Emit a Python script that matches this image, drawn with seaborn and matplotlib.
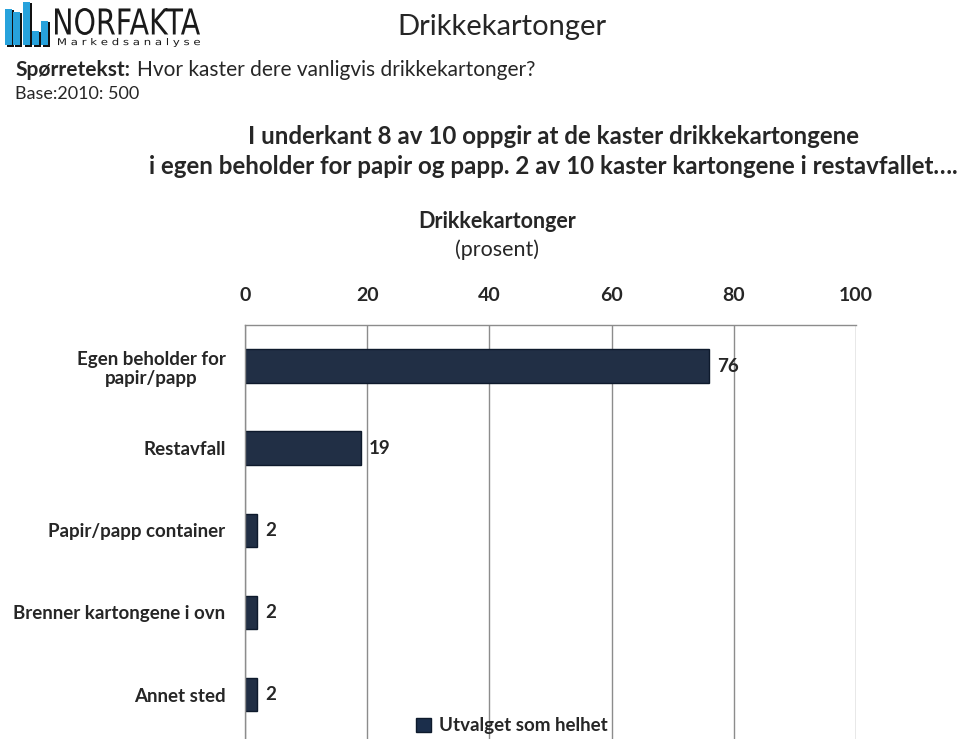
import matplotlib
matplotlib.use("Agg")
import matplotlib.pyplot as plt
import matplotlib.patches as mpatches
from matplotlib.textpath import TextPath
from matplotlib.font_manager import FontProperties
from matplotlib.transforms import Affine2D, IdentityTransform
import seaborn as sns
import pandas as pd

categories = ["Egen beholder for\npapir/papp", "Restavfall", "Papir/papp container",
              "Brenner kartongene i ovn", "Annet sted"]
values = [76, 19, 2, 2, 2]
xticks = [0, 20, 40, 60, 80, 100]
series_name = "Utvalget som helhet"

df = pd.DataFrame({"kategori": categories, "prosent": values, "serie": series_name})

sns.set_theme(style="white")
plt.rcParams["font.family"] = ["Lato", "DejaVu Sans"]

W, H = 959, 739
fig = plt.figure(figsize=(W / 100, H / 100), dpi=100)

ax = fig.add_axes([245 / W, 0, (856 - 245) / W, 1 - 325 / H])
bar_color = "#1B2E4B"
sns.barplot(data=df, x="prosent", y="kategori", hue="serie", palette=[bar_color],
            orient="h", width=0.41, edgecolor="#0E1A2C", linewidth=1.0,
            ax=ax, legend=False)

ax.set_xlim(0, 100)
ax.set_ylim(4.54, -0.5)
ax.set_xticks(xticks)
ax.set_xticklabels([str(t) for t in xticks], fontweight="bold", fontsize=14)
ax.xaxis.tick_top()
ax.tick_params(axis="x", length=0, pad=15)
ax.tick_params(axis="y", length=0, pad=14)
for lbl in ax.get_yticklabels():
    lbl.set_fontweight("bold")
    lbl.set_fontsize(13.5)
    lbl.set_multialignment("center")
ax.set_xlabel("")
ax.set_ylabel("")
ax.grid(axis="x", color="#8C8C8C", linewidth=1.0)
ax.grid(axis="y", visible=False)
for side in ["right", "bottom"]:
    ax.spines[side].set_visible(False)
for side in ["top", "left"]:
    ax.spines[side].set_color("#8C8C8C")
    ax.spines[side].set_linewidth(1.0)

for i, v in enumerate(values):
    ax.text(v + 1.3, i, f"{v}", va="center", ha="left", fontweight="bold", fontsize=13.5)

# Legend
handle = mpatches.Patch(facecolor=bar_color, edgecolor="#0E1A2C", label=series_name)
fig.legend(handles=[handle], loc="center", bbox_to_anchor=(512 / W, 1 - 726 / H),
           frameon=False, prop={"weight": "bold", "size": 13.5},
           handlelength=0.8, handleheight=0.8, handletextpad=0.4)

# Texts
fig.text(502 / W, 1 - 27 / H, "Drikkekartonger", ha="center", va="center", fontsize=21,
         color="#262626")
fig.text(15 / W, 1 - 70 / H, "Spørretekst:", ha="left", va="center", fontsize=15,
         fontweight="bold")
fig.text(137 / W, 1 - 70 / H, "Hvor kaster dere vanligvis drikkekartonger?", ha="left",
         va="center", fontsize=15)
fig.text(15 / W, 1 - 94 / H, "Base:2010: 500", ha="left", va="center", fontsize=13)
fig.text(553 / W, 1 - 137 / H,
         "I underkant 8 av 10 oppgir at de kaster drikkekartongene",
         ha="center", va="center", fontsize=17.4, fontweight="bold")
fig.text(553 / W, 1 - 166 / H,
         "i egen beholder for papir og papp. 2 av 10 kaster kartongene i restavfallet….",
         ha="center", va="center", fontsize=17.4, fontweight="bold")
fig.text(497 / W, 1 - 222 / H, "Drikkekartonger", ha="center", va="center",
         fontsize=15.5, fontweight="bold")
fig.text(497 / W, 1 - 250 / H, "(prosent)", ha="center", va="center", fontsize=15.5)

# Logo icon
logo_bars = [(5, 9), (13, 12), (23, 2), (32, 31), (41, 21)]
for x0, top in logo_bars:
    fig.patches.append(mpatches.Rectangle((x0 + 2, H - 47), 7, 47 - top - 1,
                                          transform=IdentityTransform(),
                                          facecolor="#111111", edgecolor="none"))
    fig.patches.append(mpatches.Rectangle((x0, H - 45), 6.5, 45 - top,
                                          transform=IdentityTransform(),
                                          facecolor="#27A2DC", edgecolor="none"))


def fit_text(s, box, weight="normal", family="DejaVu Sans"):
    x0, x1, ytop, ybot = box
    tp = TextPath((0, 0), s, size=40, prop=FontProperties(family=family, weight=weight))
    ext = tp.get_extents()
    sx = (x1 - x0) / ext.width
    sy = (ybot - ytop) / ext.height
    tr = Affine2D().translate(-ext.x0, -ext.y0).scale(sx, sy).translate(x0, H - ybot)
    fig.patches.append(mpatches.PathPatch(tr.transform_path(tp), transform=IdentityTransform(),
                                          facecolor="#1A1A1A", edgecolor="none"))


fit_text("NORFAKTA", (55, 200, 8, 35))
fit_text("M a r k e d s a n a l y s e", (58, 200, 38, 47))

fig.savefig("out.png", dpi=100)
